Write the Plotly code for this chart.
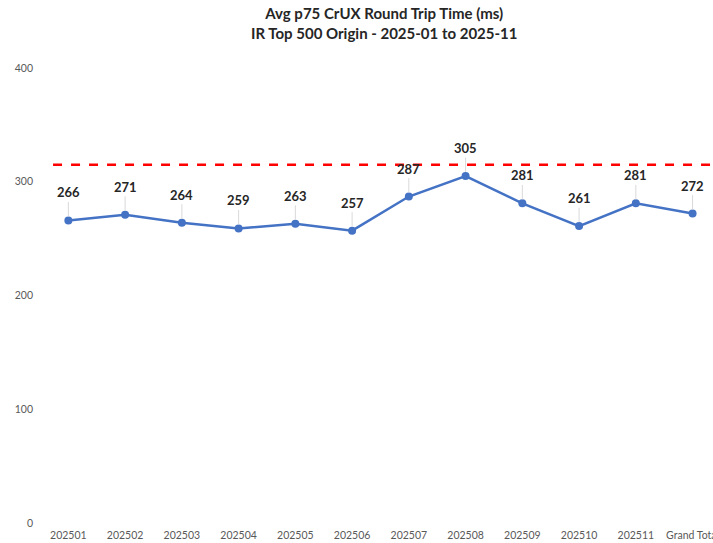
import plotly.graph_objects as go

categories = ["202501", "202502", "202503", "202504", "202505", "202506",
              "202507", "202508", "202509", "202510", "202511", "Grand Total"]
values = [266, 271, 264, 259, 263, 257, 287, 305, 281, 261, 281, 272]
target = 315
y_ticks = [0, 100, 200, 300, 400]

idx = list(range(len(categories)))

fig = go.Figure()
fig.add_trace(go.Scatter(
    x=idx, y=values, mode="lines+markers",
    line=dict(color="#4472C4", width=2.5),
    marker=dict(color="#4472C4", size=8),
    text=categories, hovertemplate="%{text}: %{y}<extra></extra>",
    showlegend=False,
))

for i, v in zip(idx, values):
    fig.add_annotation(
        x=i, y=v, xref="x", yref="y", text=f"<b>{v}</b>", showarrow=True,
        arrowhead=0, arrowwidth=1, arrowcolor="#D9D9D9", ax=0, ay=-28,
        standoff=4,
        font=dict(family="Lato", size=13, color="#262626"),
    )

fig.add_annotation(
    xref="paper", yref="paper", x=0.512, y=1, yshift=24,
    xanchor="center", yanchor="bottom", showarrow=False,
    text="<b>Avg p75 CrUX Round Trip Time (ms)<br>IR Top 500 Origin - 2025-01 to 2025-11</b>",
    font=dict(family="Lato", size=15, color="#262626"),
)

fig.add_shape(type="line", xref="x", yref="y", x0=-0.27, x1=11.6,
              y0=target, y1=target,
              line=dict(color="#FF0000", width=2.5, dash="dash"))

fig.update_layout(
    width=713, height=543,
    margin=dict(l=40, r=0, t=68, b=20),
    paper_bgcolor="white", plot_bgcolor="white",
    font=dict(family="Lato", color="#595959"),
    xaxis=dict(range=[-0.5, 11.36], showgrid=False, tickmode="array",
               tickvals=idx, ticktext=categories, ticklabeloverflow="allow",
               automargin=False,
               showline=False, zeroline=False, ticks="", ticklabelstandoff=4,
               tickfont=dict(size=10.5, color="#595959")),
    yaxis=dict(range=[0, 400], tickvals=y_ticks, showgrid=False,
               showline=False, zeroline=False, ticklabelstandoff=6,
               automargin=False,
               tickfont=dict(size=10.5, color="#595959")),
)

fig.write_html("out.html", config={"displayModeBar": False},
               post_script="document.body.style.margin='0';")
